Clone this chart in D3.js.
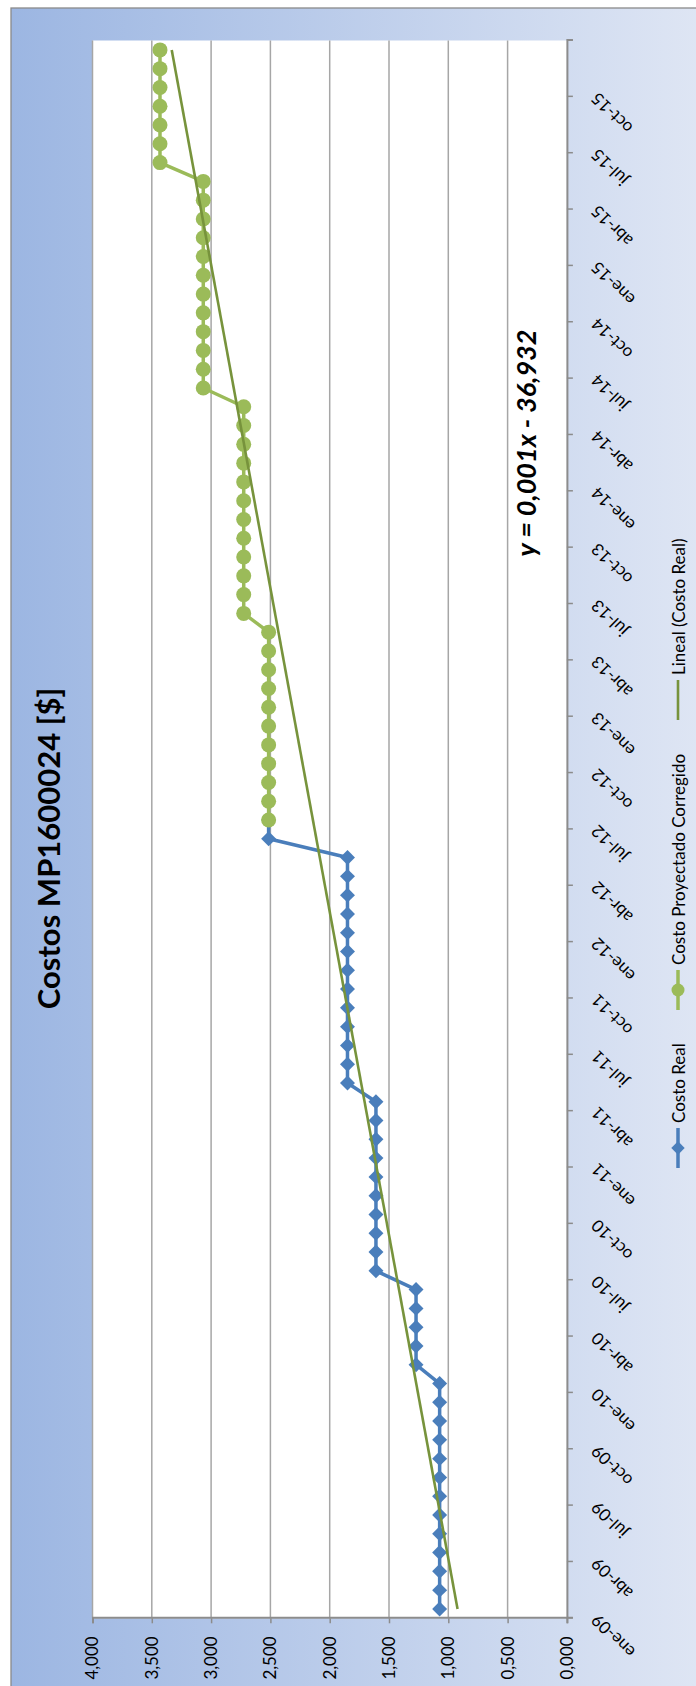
<!DOCTYPE html>
<html><head><meta charset="utf-8">
<script src="https://cdn.jsdelivr.net/npm/d3@7"></script>
<style>html,body{margin:0;padding:0;background:#fff;}svg{display:block;}</style>
</head><body>
<svg id="chart" width="696" height="1686"></svg>
<script>
// ---- data ----
const tickLabels = ["ene-09","abr-09","jul-09","oct-09","ene-10","abr-10","jul-10","oct-10",
  "ene-11","abr-11","jul-11","oct-11","ene-12","abr-12","jul-12","oct-12",
  "ene-13","abr-13","jul-13","oct-13","ene-14","abr-14","jul-14","oct-14",
  "ene-15","abr-15","jul-15","oct-15"];
const valueTicks = [0, 0.5, 1, 1.5, 2, 2.5, 3, 3.5, 4];
// Costo Real: monthly from ene-09 (month index 0)
const costoRealStart = 0;
const costoReal = [1.073,1.073,1.073,1.073,1.073,1.073,1.073,1.073,1.073,1.073,1.073,1.073,1.073,
  1.272,1.272,1.272,1.272,1.272,
  1.610,1.610,1.610,1.610,1.610,1.610,1.610,1.610,1.610,1.610,
  1.850,1.850,1.850,1.850,1.850,1.850,1.850,1.850,1.850,1.850,1.850,1.850,1.850,
  2.515,2.515];
// Costo Proyectado Corregido: monthly from jul-12 (month index 42)
const costoProyStart = 42;
const costoProy = [2.515,2.515,2.515,2.515,2.515,2.515,2.515,2.515,2.515,2.515,2.515,
  2.725,2.725,2.725,2.725,2.725,2.725,2.725,2.725,2.725,2.725,2.725,2.725,
  3.066,3.066,3.066,3.066,3.066,3.066,3.066,3.066,3.066,3.066,3.066,3.066,
  3.431,3.431,3.431,3.431,3.431,3.431,3.431];
// Lineal (Costo Real) trendline: values at first (ene-09) and last (dic-15) month
const trendMonths = [0, 83];
const trendValues = [0.922, 3.332];
const seriesNames = ["Costo Real", "Costo Proyectado Corregido", "Lineal (Costo Real)"];
const titleText = "Costos MP1600024 [$]";
const equationText = "y = 0,001x - 36,932";
const totalMonths = 84;

// ---- drawing (chart is built upright, then rotated -90°) ----
const W = 1686, H = 696;
const FONT = "Lato, 'Open Sans', sans-serif";
const svg = d3.select("#chart");
const defs = svg.append("defs");
const grad = defs.append("linearGradient").attr("id","bg").attr("x1",0).attr("y1",0).attr("x2",0).attr("y2",1);
grad.append("stop").attr("offset","0%").attr("stop-color","#9cb6e2");
grad.append("stop").attr("offset","100%").attr("stop-color","#dfe6f4");

const g = svg.append("g").attr("transform", `translate(0,${W}) rotate(-90)`);

// chart background
g.append("rect").attr("x",-20).attr("y",11).attr("width",1678+20).attr("height",H+10-11)
  .attr("fill","url(#bg)").attr("stroke","#8a8a8a").attr("stroke-width",1.3);

const plot = {left:67.7, right:1645.5, top:92.5, bottom:566.9};
const x = d3.scaleLinear().domain([0,totalMonths]).range([plot.left, plot.right]);
const y = d3.scaleLinear().domain([0,4]).range([plot.bottom, plot.top]);

g.append("rect").attr("x",plot.left).attr("y",plot.top)
  .attr("width",plot.right-plot.left).attr("height",plot.bottom-plot.top).attr("fill","#fff");

// gridlines
g.append("g").selectAll("line").data(valueTicks.filter(d=>d>0)).join("line")
  .attr("x1",plot.left).attr("x2",plot.right)
  .attr("y1",d=>y(d)).attr("y2",d=>y(d))
  .attr("stroke","#a6a6a6").attr("stroke-width",1.5);

// value axis
const loc = d3.formatLocale({decimal:",", thousands:".", grouping:[3], currency:["$",""]});
const fmt = loc.format(".3f");
const yAxis = g.append("g").attr("transform",`translate(${plot.left},0)`)
  .call(d3.axisLeft(y).tickValues(valueTicks).tickSize(5).tickPadding(13).tickFormat(fmt));
yAxis.select(".domain").attr("stroke","#8c8c8c").attr("stroke-width",2);
yAxis.selectAll(".tick line").attr("stroke","#8c8c8c").attr("stroke-width",1.5);
yAxis.selectAll("text").attr("font-family",FONT).attr("font-size",17).attr("fill","#000");

// category axis
const monthTicks = d3.range(0, totalMonths+1, 3);
const xAxis = g.append("g").attr("transform",`translate(0,${plot.bottom})`)
  .call(d3.axisBottom(x).tickValues(monthTicks).tickSize(6).tickFormat(""));
xAxis.select(".domain").attr("stroke","#8c8c8c").attr("stroke-width",2);
xAxis.selectAll(".tick line").attr("stroke","#8c8c8c").attr("stroke-width",1.5);
g.append("g").selectAll("text").data(tickLabels).join("text")
  .attr("transform",(d,i)=>`translate(${x(i*3)+1},${plot.bottom+27}) rotate(-45)`)
  .attr("text-anchor","end").attr("dominant-baseline","central")
  .attr("font-family",FONT).attr("font-size",17).attr("fill","#000")
  .text(d=>d);

// series
const realPts = costoReal.map((v,i)=>({m:costoRealStart+i, v}));
const proyPts = costoProy.map((v,i)=>({m:costoProyStart+i, v}));
const line = d3.line().x(d=>x(d.m+0.5)).y(d=>y(d.v));
const BLUE = "#4a7ebb", GREEN = "#9bbb59", TREND = "#77933c";
const diamond = d3.symbol(d3.symbolSquare, 112);

g.append("path").datum(realPts).attr("d",line).attr("fill","none")
  .attr("stroke",BLUE).attr("stroke-width",3.5).attr("stroke-linejoin","round");
g.append("g").selectAll("path").data(realPts).join("path")
  .attr("d",diamond).attr("transform",d=>`translate(${x(d.m+0.5)},${y(d.v)}) rotate(45)`)
  .attr("fill",BLUE);

g.append("path").datum(proyPts).attr("d",line).attr("fill","none")
  .attr("stroke",GREEN).attr("stroke-width",3.5).attr("stroke-linejoin","round");
g.append("g").selectAll("circle").data(proyPts).join("circle")
  .attr("cx",d=>x(d.m+0.5)).attr("cy",d=>y(d.v)).attr("r",7.5).attr("fill",GREEN);

const trendPts = trendMonths.map((m,i)=>({m, v:trendValues[i]}));
g.append("path").datum(trendPts).attr("d",line).attr("fill","none")
  .attr("stroke",TREND).attr("stroke-width",2.6);

// title
g.append("text").attr("x",837.5).attr("y",60).attr("text-anchor","middle")
  .attr("font-family",FONT).attr("font-weight","bold").attr("font-size",31).attr("fill","#000")
  .text(titleText);

// trendline equation
g.append("text").attr("x",1243).attr("y",536).attr("text-anchor","middle")
  .attr("font-family",FONT).attr("font-weight","bold").attr("font-style","italic")
  .attr("font-size",27).attr("fill","#000").text(equationText);

// legend
const legY = 678;
const leg = g.append("g");
const items = [
  {name:seriesNames[0], x0:518, color:BLUE, mark:"diamond", tx:563},
  {name:seriesNames[1], x0:676, color:GREEN, mark:"circle", tx:721},
  {name:seriesNames[2], x0:966, color:TREND, mark:"none", tx:1011}
];
items.forEach(it=>{
  leg.append("line").attr("x1",it.x0).attr("x2",it.x0+40).attr("y1",legY).attr("y2",legY)
    .attr("stroke",it.color).attr("stroke-width",it.mark==="none"?2.6:3.5);
  if(it.mark==="diamond") leg.append("path").attr("d",d3.symbol(d3.symbolSquare,90)())
    .attr("transform",`translate(${it.x0+20},${legY}) rotate(45)`).attr("fill",it.color);
  if(it.mark==="circle") leg.append("circle").attr("cx",it.x0+20).attr("cy",legY).attr("r",6.5).attr("fill",it.color);
  leg.append("text").attr("x",it.tx).attr("y",legY).attr("dominant-baseline","central")
    .attr("font-family",FONT).attr("font-size",17).attr("fill","#000").text(it.name);
});
</script>
</body></html>
